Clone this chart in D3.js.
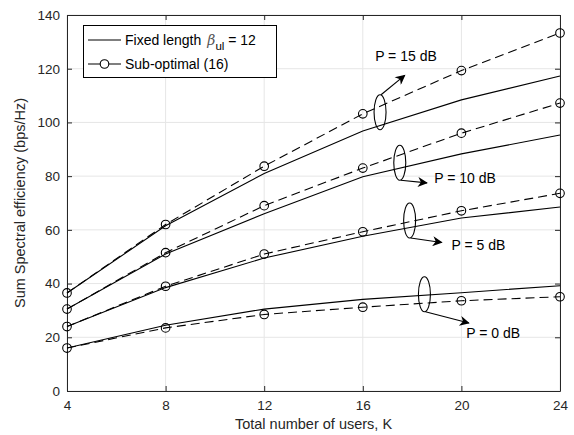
<!DOCTYPE html>
<html><head><meta charset="utf-8">
<script src="https://cdn.jsdelivr.net/npm/d3@7"></script>
<style>body{margin:0;background:#fff;} text{font-family:"Liberation Sans",Arial,sans-serif;}</style>
</head><body><svg id="c" width="574" height="435"></svg>
<script>
const users = [4, 8, 12, 16, 20, 24];
const xTicks = [4, 8, 12, 16, 20, 24];
const yTicks = [0, 20, 40, 60, 80, 100, 120, 140];
const powers = ["P = 0 dB", "P = 5 dB", "P = 10 dB", "P = 15 dB"];
const fixedP0 = [16, 24.5, 30.5, 34.1, 36.6, 39.2];
const fixedP5 = [24, 38.5, 49.5, 57.6, 64.4, 68.5];
const fixedP10 = [30.5, 51, 66, 79.8, 88.3, 95.3];
const fixedP15 = [36.5, 61.5, 81, 96.8, 108.4, 117.3];
const subP0 = [16, 23.5, 28.5, 31.2, 33.6, 35.1];
const subP5 = [24, 39, 51, 59.3, 67.1, 73.6];
const subP10 = [30.5, 51.5, 69, 83, 96, 107.2];
const subP15 = [36.5, 62, 83.7, 103.2, 119.3, 133.3];
// annotation anchors in data units: [K, value] of ellipse centre, arrow end, label position
const annoEllipse = [[18.5, 36], [17.9, 63.5], [17.5, 85], [16.7, 103.8]];
const annoArrowEnd = [[20.3, 25.3], [19.2, 55.3], [18.6, 77.5], [17.7, 117.5]];
const annoLabel = [[20.2, 19.8], [19.6, 52.5], [18.9, 77.3], [16.5, 122.7]];

const svg = d3.select("#c");
const m = {l: 67, r: 14, t: 15, b: 44};
const W = 574, H = 435;
const x = d3.scaleLinear().domain([4, 24]).range([m.l, W - m.r]);
const y = d3.scaleLinear().domain([0, 140]).range([H - m.b, m.t]);
const ink = "#262626";

// grid
const g = svg.append("g");
g.selectAll(".gx").data(xTicks).enter().append("line")
  .attr("x1", d => x(d)).attr("x2", d => x(d)).attr("y1", y(0)).attr("y2", y(140))
  .attr("stroke", "#e6e6e6").attr("stroke-width", 1);
g.selectAll(".gy").data(yTicks).enter().append("line")
  .attr("y1", d => y(d)).attr("y2", d => y(d)).attr("x1", x(4)).attr("x2", x(24))
  .attr("stroke", "#e6e6e6").attr("stroke-width", 1);

// axes
const ax = d3.axisBottom(x).tickValues(xTicks).tickSize(-5).tickPadding(9).tickSizeOuter(0);
const ay = d3.axisLeft(y).tickValues(yTicks).tickSize(-5).tickPadding(7).tickSizeOuter(0);
const axT = d3.axisTop(x).tickValues(xTicks).tickSize(-5).tickFormat("").tickSizeOuter(0);
const ayR = d3.axisRight(y).tickValues(yTicks).tickSize(-5).tickFormat("").tickSizeOuter(0);
function style(sel){ sel.selectAll("path,line").attr("stroke", ink).attr("stroke-width", 1);
  sel.selectAll("text").attr("fill", ink).style("font-size", "13.5px").style("font-family", "Liberation Sans, Arial, sans-serif"); }
svg.append("g").attr("transform", `translate(0,${y(0)})`).call(ax).call(style);
svg.append("g").attr("transform", `translate(${x(4)},0)`).call(ay).call(style);
svg.append("g").attr("transform", `translate(0,${y(140)})`).call(axT).call(style);
svg.append("g").attr("transform", `translate(${x(24)},0)`).call(ayR).call(style);

// lines
const line = d3.line().x((d, i) => x(users[i])).y(d => y(d));
[fixedP0, fixedP5, fixedP10, fixedP15].forEach(s => {
  svg.append("path").attr("d", line(s)).attr("fill", "none").attr("stroke", "#000").attr("stroke-width", 1.1);
});
[subP0, subP5, subP10, subP15].forEach(s => {
  svg.append("path").attr("d", line(s)).attr("fill", "none").attr("stroke", "#000").attr("stroke-width", 1.1).attr("stroke-dasharray", "9,5");
  svg.selectAll(null).data(s).enter().append("circle")
    .attr("cx", (d, i) => x(users[i])).attr("cy", d => y(d)).attr("r", 4.3)
    .attr("fill", "none").attr("stroke", "#000").attr("stroke-width", 1.1);
});

// annotations
const defs = svg.append("defs");
defs.append("marker").attr("id", "ah").attr("viewBox", "0 0 10 10").attr("refX", 9).attr("refY", 5)
  .attr("markerWidth", 14).attr("markerHeight", 10).attr("markerUnits", "userSpaceOnUse").attr("orient", "auto")
  .append("path").attr("d", "M0,0 L10,5 L0,10 L3,5 Z").attr("fill", "#000");
powers.forEach((p, i) => {
  const cx = x(annoEllipse[i][0]), cy = y(annoEllipse[i][1]);
  const ry = 17.5, rx = 6;
  svg.append("ellipse").attr("cx", cx).attr("cy", cy).attr("rx", rx).attr("ry", ry)
    .attr("fill", "none").attr("stroke", "#000").attr("stroke-width", 1.1);
  const sy = i === 3 ? cy - ry : cy + ry;
  svg.append("line").attr("x1", cx + 1).attr("y1", sy).attr("x2", x(annoArrowEnd[i][0])).attr("y2", y(annoArrowEnd[i][1]))
    .attr("stroke", "#000").attr("stroke-width", 1.1).attr("marker-end", "url(#ah)");
  svg.append("text").attr("x", x(annoLabel[i][0])).attr("y", y(annoLabel[i][1]))
    .attr("fill", "#000").style("font-size", "14px").text(p);
});

// legend
const lg = svg.append("g");
lg.append("rect").attr("x", 83.5).attr("y", 25.5).attr("width", 193).attr("height", 52)
  .attr("fill", "#fff").attr("stroke", "#000").attr("stroke-width", 1);
lg.append("line").attr("x1", 88).attr("x2", 121).attr("y1", 40).attr("y2", 40).attr("stroke", "#000").attr("stroke-width", 1.1);
const t1 = lg.append("text").attr("x", 125).attr("y", 45).attr("fill", "#000").style("font-size", "14px");
t1.append("tspan").text("Fixed length");
t1.append("tspan").attr("dx", 6).style("font-family", "DejaVu Serif, serif").style("font-style", "italic").attr("fill", "#555").text("β");
t1.append("tspan").attr("dy", 5).style("font-size", "11.5px").text("ul");
t1.append("tspan").attr("dy", -5).text(" = 12");
lg.append("line").attr("x1", 88).attr("x2", 121).attr("y1", 64).attr("y2", 64).attr("stroke", "#000").attr("stroke-width", 1.1);
lg.append("circle").attr("cx", 104.5).attr("cy", 64).attr("r", 4.3).attr("fill", "#fff").attr("stroke", "#000").attr("stroke-width", 1.1);
lg.append("text").attr("x", 125).attr("y", 69).attr("fill", "#000").style("font-size", "14px").text("Sub-optimal (16)");

// axis labels
svg.append("text").attr("x", (x(4) + x(24)) / 2).attr("y", 429).attr("text-anchor", "middle")
  .attr("fill", ink).style("font-size", "14.5px").text("Total number of users, K");
svg.append("text").attr("transform", `translate(25,${(y(0) + y(140)) / 2}) rotate(-90)`).attr("text-anchor", "middle")
  .attr("fill", ink).style("font-size", "14.5px").text("Sum Spectral efficiency (bps/Hz)");
</script></body></html>
